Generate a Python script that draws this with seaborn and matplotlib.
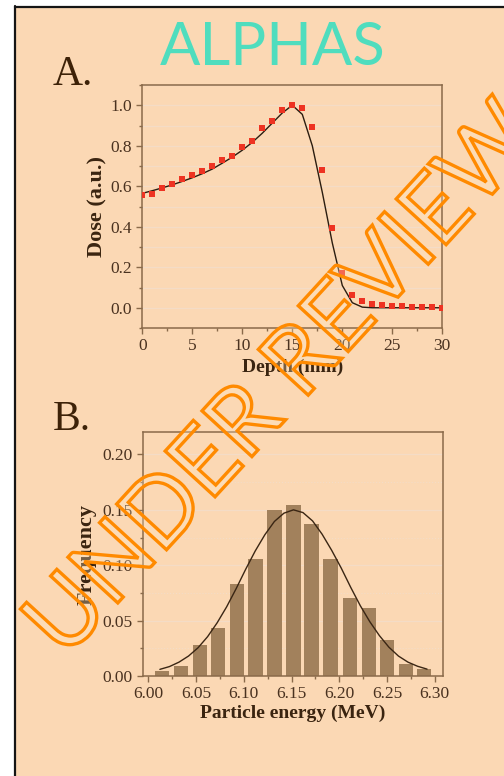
import matplotlib
matplotlib.use("Agg")
import matplotlib.pyplot as plt
import seaborn as sns
from matplotlib.ticker import MultipleLocator, FormatStrFormatter
from matplotlib import patheffects as pe
from matplotlib.patches import Rectangle
from matplotlib.lines import Line2D

# ---------------- data ----------------
depth_mm = list(range(0, 31))
dose_measured = [0.555, 0.563, 0.589, 0.612, 0.634, 0.657, 0.675, 0.698, 0.732, 0.750,
                 0.793, 0.824, 0.890, 0.921, 0.975, 1.000, 0.988, 0.893, 0.681, 0.396,
                 0.171, 0.062, 0.033, 0.020, 0.013, 0.008, 0.007, 0.005, 0.003, 0.003, 0.000]
dose_simulated = [0.565, 0.578, 0.592, 0.607, 0.624, 0.642, 0.662, 0.685, 0.714, 0.744,
                  0.778, 0.817, 0.862, 0.912, 0.962, 1.000, 0.955, 0.800, 0.570, 0.320,
                  0.110, 0.025, 0.003, 0.000, 0.000, 0.000, 0.000, 0.000, 0.000, 0.000, 0.000]

energy_mev = [6.014, 6.034, 6.054, 6.073, 6.093, 6.112, 6.132, 6.152, 6.171, 6.191,
              6.211, 6.231, 6.250, 6.270, 6.289]
frequency = [0.0048, 0.0093, 0.0277, 0.0433, 0.0833, 0.1060, 0.1495, 0.1540, 0.1370,
             0.1060, 0.0707, 0.0617, 0.0328, 0.0108, 0.0063]

fit_energy = [6.012, 6.022, 6.032, 6.042, 6.052, 6.062, 6.072, 6.082, 6.092, 6.102,
              6.112, 6.122, 6.132, 6.142, 6.152, 6.162, 6.172, 6.182, 6.192, 6.202,
              6.212, 6.222, 6.232, 6.242, 6.252, 6.262, 6.272, 6.282, 6.292]
fit_frequency = [0.0060, 0.0085, 0.0125, 0.0180, 0.0255, 0.0355, 0.0480, 0.0625, 0.0790,
                 0.0965, 0.1130, 0.1275, 0.1395, 0.1470, 0.1500, 0.1475, 0.1400, 0.1280,
                 0.1135, 0.0975, 0.0800, 0.0635, 0.0490, 0.0365, 0.0260, 0.0180, 0.0125,
                 0.0088, 0.0062]

# ---------------- style ----------------
sns.set_style("ticks")
plt.rcParams["font.family"] = ["Liberation Serif", "DejaVu Serif"]

PEACH = "#FBD8B4"
SPINE = "#8A6A4A"
TICKTXT = "#4A3220"
LABEL = "#3A2410"
GRID = "#F4DCC6"

W, H = 504, 776
fig = plt.figure(figsize=(W / 100, H / 100), dpi=100)
fig.patch.set_facecolor("white")
fig.patches.append(Rectangle((15 / W, 0), (W - 15) / W, (H - 6) / H,
                             transform=fig.transFigure, facecolor=PEACH,
                             edgecolor="none", zorder=-5))
fig.add_artist(Line2D([15 / W, 15 / W], [0, 1 - 6 / H], transform=fig.transFigure,
                      color="#151515", lw=1.6, zorder=-4))
fig.add_artist(Line2D([15 / W, 1], [1 - 7 / H, 1 - 7 / H], transform=fig.transFigure,
                      color="#151515", lw=1.6, zorder=-4))


def style_axes(ax):
    ax.set_facecolor("none")
    for s in ax.spines.values():
        s.set_color(SPINE)
        s.set_linewidth(1.1)
    ax.tick_params(which="both", direction="out", color=SPINE, width=1.0,
                   labelcolor=TICKTXT, labelsize=12.5, top=False, right=False)
    ax.tick_params(which="major", length=4)
    ax.tick_params(which="minor", length=2.5)


# ---------------- panel A ----------------
axA = fig.add_axes([142.3 / W, 1 - 328 / H, 300 / W, 243 / H])
style_axes(axA)
axA.grid(True, which="both", axis="y", color=GRID, lw=0.9, zorder=0)
axA.set_axisbelow(True)

sns.lineplot(x=depth_mm, y=dose_simulated, color="#2B1D10", lw=1.0, ax=axA, zorder=2)
sns.scatterplot(x=depth_mm, y=dose_measured, marker="s", s=15, color="#EE3322",
                linewidth=0, ax=axA, zorder=3)
axA.set_xlim(0, 30)
axA.set_ylim(-0.1, 1.1)
axA.xaxis.set_major_locator(MultipleLocator(5))
axA.xaxis.set_minor_locator(MultipleLocator(2.5))
axA.yaxis.set_major_locator(MultipleLocator(0.2))
axA.yaxis.set_minor_locator(MultipleLocator(0.1))
axA.yaxis.set_major_formatter(FormatStrFormatter("%.1f"))
axA.set_xlabel("Depth (mm)", fontsize=14, fontweight="bold", color=LABEL, va="center")
axA.set_ylabel("Dose (a.u.)", fontsize=16, fontweight="bold", color=LABEL, va="center")
axA.xaxis.set_label_coords(0.5, -0.160)
axA.yaxis.set_label_coords(-0.148, 0.5)

# ---------------- panel B ----------------
axB = fig.add_axes([142.7 / W, 1 - 676 / H, 300.6 / W, 243.7 / H])

sns.barplot(x=energy_mev, y=frequency, native_scale=True, width=0.8, color="#A2815C",
            saturation=1, errorbar=None, linewidth=0, ax=axB, zorder=2)
sns.lineplot(x=fit_energy, y=fit_frequency, color="#3A2614", lw=1.0, ax=axB, zorder=3)
axB.set_xlim(5.994, 6.309)
axB.set_ylim(0, 0.22)
axB.xaxis.set_major_locator(MultipleLocator(0.05))
axB.xaxis.set_minor_locator(MultipleLocator(0.025))
axB.yaxis.set_major_locator(MultipleLocator(0.05))
axB.yaxis.set_minor_locator(MultipleLocator(0.025))
axB.xaxis.set_major_formatter(FormatStrFormatter("%.2f"))
axB.yaxis.set_major_formatter(FormatStrFormatter("%.2f"))
axB.grid(False, axis="x", which="both")
axB.grid(True, which="major", axis="y", color=GRID, lw=0.9, zorder=0)
axB.grid(True, which="minor", axis="y", color=GRID, lw=0.8, ls=":", zorder=0)
axB.set_axisbelow(True)
style_axes(axB)
axB.set_xlabel("Particle energy (MeV)", fontsize=14, fontweight="bold", color=LABEL, va="center")
axB.set_ylabel("Frequency", fontsize=16, fontweight="bold", color=LABEL, va="center")
axB.xaxis.set_label_coords(0.5, -0.152)
axB.yaxis.set_label_coords(-0.185, 0.5)

# ---------------- texts ----------------
fig.text(273 / W, 1 - 65 / H, "ALPHAS", family=["Lato", "DejaVu Sans"], fontsize=43,
         color="#4FDDBE", ha="center", va="baseline")
fig.text(53 / W, 1 - 85 / H, "A.", fontsize=30, color="#3D2208", ha="left", va="baseline")
fig.text(53 / W, 1 - 430 / H, "B.", fontsize=30, color="#3D2208", ha="left", va="baseline")

wm = fig.text(285 / W, 1 - 382 / H, "UNDER REVIEW", family=["Lato", "DejaVu Sans"],
              fontsize=68, rotation=47.5, rotation_mode="anchor", ha="center", va="center",
              color="#FF8C00", zorder=10)
wm.set_path_effects([pe.PathPatchEffect(edgecolor="#FF8A00", facecolor=(1.0, 0.9, 0.75, 0.3),
                                        linewidth=2.4)])

fig.savefig("out.png", dpi=100, facecolor=fig.get_facecolor())
